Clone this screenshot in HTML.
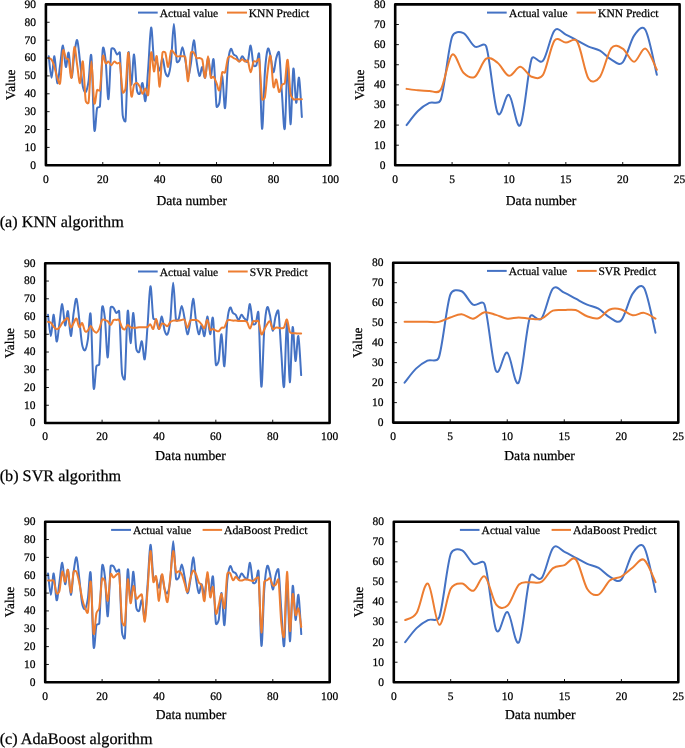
<!DOCTYPE html>
<html><head><meta charset="utf-8"><style>
html,body{margin:0;padding:0;background:#fff;}
body{width:685px;height:748px;overflow:hidden;}
svg{display:block;will-change:transform;}
text{font-family:"Liberation Serif", serif;fill:#000;stroke:#000;stroke-width:0.25px;text-rendering:geometricPrecision;}
</style></head><body>
<svg width="685" height="748" viewBox="0 0 685 748">
<path d="M48.74,56.25 C49.22,59.82 50.64,77.70 51.59,77.70 C52.54,77.70 53.48,55.35 54.43,56.25 C55.38,57.14 56.33,81.57 57.28,83.06 C58.22,84.55 59.17,71.44 60.12,65.18 C61.07,58.93 62.02,45.22 62.96,45.52 C63.91,45.82 64.86,65.78 65.81,66.97 C66.76,68.16 67.70,50.88 68.65,52.67 C69.60,54.46 70.55,77.40 71.50,77.70 C72.44,78.00 73.39,60.72 74.34,54.46 C75.29,48.20 76.24,38.96 77.18,40.16 C78.13,41.35 79.08,53.86 80.03,61.61 C80.98,69.36 81.92,81.57 82.87,86.64 C83.43,89.62 84.77,92.90 85.72,92.00 C86.66,91.11 87.69,86.75 88.56,81.27 C89.51,75.32 90.46,48.26 91.40,56.25 C92.35,64.23 93.30,120.55 94.25,129.19 C95.20,137.83 96.14,111.91 97.09,108.09 C97.50,106.46 99.77,107.98 99.94,106.30 C100.88,96.47 101.83,56.84 102.78,49.09 C103.45,43.59 105.00,54.31 105.62,59.82 C106.57,68.16 107.52,100.94 108.47,99.15 C109.42,97.36 110.36,57.44 111.31,49.09 C111.47,47.68 113.21,48.20 114.16,49.09 C115.10,49.99 116.05,53.86 117.00,54.46 C117.95,55.05 119.69,51.00 119.84,52.67 C120.79,62.80 121.74,103.92 122.69,115.24 C122.94,118.27 125.26,123.63 125.53,120.61 C126.48,110.18 127.43,58.63 128.38,52.67 C129.32,46.71 130.27,84.55 131.22,84.85 C132.17,85.15 133.12,53.56 134.06,54.46 C135.01,55.35 135.96,83.66 136.91,90.21 C137.23,92.47 138.80,94.98 139.75,93.79 C140.70,92.60 141.65,81.87 142.60,83.06 C143.54,84.25 144.49,103.62 145.44,100.94 C146.39,98.26 147.34,79.19 148.28,66.97 C149.23,54.76 150.18,28.83 151.13,27.64 C152.08,26.45 153.02,54.16 153.97,59.82 C154.25,61.48 156.03,60.12 156.82,61.61 C157.76,63.40 158.71,71.14 159.66,70.55 C160.61,69.95 161.56,57.74 162.50,58.03 C163.45,58.33 164.40,69.36 165.35,72.34 C166.04,74.51 167.24,77.70 168.19,75.91 C169.14,74.12 170.24,68.86 171.04,61.61 C171.98,52.97 172.93,24.07 173.88,24.07 C174.83,24.07 175.78,55.65 176.72,61.61 C176.99,63.27 178.95,61.38 179.57,59.82 C180.52,57.44 181.46,47.31 182.41,47.31 C183.36,47.31 184.31,55.05 185.26,59.82 C186.20,64.59 187.15,75.32 188.10,75.91 C189.05,76.51 190.00,69.36 190.94,63.40 C191.89,57.44 192.84,40.45 193.79,40.16 C194.74,39.86 195.68,55.65 196.63,61.61 C197.58,67.57 198.53,75.02 199.48,75.91 C200.42,76.81 201.37,66.67 202.32,66.97 C203.27,67.27 204.22,79.19 205.16,77.70 C206.11,76.21 207.06,58.33 208.01,58.03 C208.96,57.74 209.90,75.61 210.85,75.91 C211.80,76.21 212.75,54.76 213.70,59.82 C214.64,64.89 215.59,99.15 216.54,106.30 C216.84,108.57 218.96,104.97 219.38,102.73 C220.33,97.66 221.28,75.02 222.23,75.91 C223.18,76.81 224.12,110.18 225.07,108.09 C226.02,106.01 226.97,73.23 227.92,63.40 C228.62,56.14 229.81,50.58 230.76,49.09 C231.71,47.60 232.66,53.27 233.60,54.46 C234.55,55.65 235.50,55.05 236.45,56.25 C237.40,57.44 238.34,61.61 239.29,61.61 C240.24,61.61 241.19,56.54 242.14,56.25 C243.08,55.95 244.03,58.93 244.98,59.82 C245.93,60.71 247.20,63.17 247.82,61.61 C248.77,59.23 249.72,44.92 250.67,45.52 C251.62,46.11 252.56,61.91 253.51,65.18 C253.91,66.55 255.69,66.44 256.36,65.18 C257.30,63.40 258.70,48.93 259.20,54.46 C260.15,65.04 261.10,125.67 262.04,128.65 C262.99,131.63 263.94,85.59 264.89,72.34 C265.72,60.66 266.78,51.78 267.73,49.09 C268.68,46.41 269.66,52.51 270.58,56.25 C271.52,60.12 272.47,72.04 273.42,72.34 C274.37,72.63 275.32,61.31 276.26,58.03 C277.11,55.12 278.63,49.67 279.11,52.67 C280.06,58.63 281.00,81.13 281.95,93.79 C282.90,106.45 283.85,133.72 284.80,128.65 C285.74,123.59 286.69,64.14 287.64,63.40 C288.59,62.65 289.54,123.29 290.48,124.18 C291.43,125.08 292.38,72.34 293.33,68.76 C294.28,65.18 295.22,101.24 296.17,102.73 C297.12,104.22 298.07,75.32 299.02,77.70 C299.96,80.08 301.39,110.47 301.86,117.03" fill="none" stroke="#4472C4" stroke-width="2" stroke-linejoin="round" stroke-linecap="round"/>
<path d="M48.74,58.03 C49.22,58.33 50.69,58.40 51.59,59.82 C52.54,61.31 53.48,63.99 54.43,66.97 C55.38,69.95 56.33,75.02 57.28,77.70 C58.22,80.38 59.49,86.03 60.12,83.06 C61.07,78.59 62.02,55.05 62.96,50.88 C63.82,47.13 64.86,56.54 65.81,58.03 C66.71,59.45 68.19,58.21 68.65,59.82 C69.60,63.10 70.55,79.78 71.50,77.70 C72.44,75.61 73.39,49.39 74.34,47.31 C75.29,45.22 76.24,59.23 77.18,65.18 C78.13,71.14 79.08,83.66 80.03,83.06 C80.98,82.47 81.92,58.63 82.87,61.61 C83.82,64.59 84.77,94.09 85.72,100.94 C85.95,102.60 88.32,104.39 88.56,102.73 C89.51,96.17 90.46,61.61 91.40,61.61 C92.35,61.61 93.30,97.96 94.25,102.73 C95.20,107.50 96.14,92.30 97.09,90.21 C97.68,88.92 99.70,91.62 99.94,90.21 C100.88,84.55 101.83,60.71 102.78,56.25 C103.58,52.48 104.68,62.50 105.62,63.40 C106.57,64.29 107.52,61.31 108.47,61.61 C109.42,61.91 110.36,65.18 111.31,65.18 C112.26,65.18 113.21,61.91 114.16,61.61 C115.10,61.31 116.05,63.10 117.00,63.40 C117.95,63.69 119.57,62.00 119.84,63.40 C120.79,68.16 121.74,87.83 122.69,92.00 C123.19,94.23 125.21,90.69 125.53,88.43 C126.48,81.87 127.43,51.48 128.38,52.67 C129.32,53.86 130.27,90.21 131.22,95.58 C132.17,100.94 133.12,86.94 134.06,84.85 C134.76,83.32 135.96,82.76 136.91,83.06 C137.86,83.36 138.80,84.85 139.75,86.64 C140.70,88.43 141.65,93.49 142.60,93.79 C143.54,94.09 144.49,88.28 145.44,88.43 C146.39,88.57 147.74,98.08 148.28,94.68 C149.23,88.72 150.18,56.54 151.13,52.67 C152.08,48.80 153.02,70.85 153.97,71.44 C154.92,72.04 155.87,53.71 156.82,56.25 C157.76,58.78 158.71,87.23 159.66,86.64 C160.61,86.04 161.56,58.33 162.50,52.67 C162.74,51.27 164.82,51.35 165.35,52.67 C166.30,55.05 167.24,67.27 168.19,66.97 C169.14,66.67 170.09,53.27 171.04,50.88 C171.66,49.32 172.93,51.78 173.88,52.67 C174.83,53.56 175.78,55.65 176.72,56.25 C177.67,56.84 178.62,56.25 179.57,56.25 C180.52,56.25 181.46,56.13 182.41,56.25 C183.36,56.36 184.93,55.53 185.26,56.96 C186.20,61.13 187.15,81.99 188.10,81.27 C189.05,80.56 190.00,57.44 190.94,52.67 C191.22,51.28 192.84,51.78 193.79,52.67 C194.74,53.56 195.68,57.14 196.63,58.03 C197.58,58.93 198.53,57.74 199.48,58.03 C200.42,58.33 201.85,58.21 202.32,59.82 C203.27,63.10 204.22,78.29 205.16,77.70 C206.11,77.10 207.06,56.25 208.01,56.25 C208.96,56.25 209.90,74.24 210.85,77.70 C211.24,79.11 212.75,76.09 213.70,76.98 C214.64,77.88 215.59,80.86 216.54,83.06 C217.49,85.27 218.44,92.00 219.38,90.21 C220.33,88.43 221.28,75.32 222.23,72.34 C222.66,70.98 224.55,73.66 225.07,72.34 C226.02,69.95 226.97,60.71 227.92,58.03 C228.48,56.45 229.81,56.25 230.76,56.25 C231.71,56.25 232.66,57.53 233.60,58.03 C234.55,58.54 235.50,58.69 236.45,59.28 C237.40,59.88 238.34,61.61 239.29,61.61 C240.24,61.61 241.19,59.28 242.14,59.28 C243.08,59.28 244.03,61.37 244.98,61.61 C245.93,61.85 247.13,59.40 247.82,60.72 C248.77,62.50 249.72,72.19 250.67,72.34 C251.62,72.48 252.56,63.40 253.51,61.61 C254.18,60.35 255.41,62.00 256.36,61.61 C257.30,61.22 258.92,57.47 259.20,59.28 C260.15,65.54 261.10,92.81 262.04,99.15 C262.29,100.81 264.56,99.01 264.89,97.36 C265.84,92.60 266.78,77.40 267.73,70.55 C268.68,63.69 269.63,53.56 270.58,56.25 C271.52,58.93 272.47,82.76 273.42,86.64 C274.33,90.38 275.32,78.59 276.26,79.49 C277.21,80.38 278.16,91.11 279.11,92.00 C280.06,92.90 281.00,86.34 281.95,84.85 C282.85,83.43 284.42,84.70 284.80,83.06 C285.74,78.89 286.69,58.03 287.64,59.82 C288.59,61.61 289.54,87.23 290.48,93.79 C290.92,96.79 292.38,98.26 293.33,99.15 C294.28,100.05 295.22,99.15 296.17,99.15 C297.12,99.15 298.07,99.15 299.02,99.15 C299.96,99.15 301.39,99.15 301.86,99.15" fill="none" stroke="#ED7D31" stroke-width="2" stroke-linejoin="round" stroke-linecap="round"/>
<text x="36.10" y="168.70" text-anchor="end" font-size="11.5">0</text>
<text x="36.10" y="150.82" text-anchor="end" font-size="11.5">10</text>
<text x="36.10" y="132.94" text-anchor="end" font-size="11.5">20</text>
<text x="36.10" y="115.07" text-anchor="end" font-size="11.5">30</text>
<text x="36.10" y="97.19" text-anchor="end" font-size="11.5">40</text>
<text x="36.10" y="79.31" text-anchor="end" font-size="11.5">50</text>
<text x="36.10" y="61.43" text-anchor="end" font-size="11.5">60</text>
<text x="36.10" y="43.56" text-anchor="end" font-size="11.5">70</text>
<text x="36.10" y="25.68" text-anchor="end" font-size="11.5">80</text>
<text x="36.10" y="7.80" text-anchor="end" font-size="11.5">90</text>
<text x="45.90" y="182.60" text-anchor="middle" font-size="11.5">0</text>
<text x="102.78" y="182.60" text-anchor="middle" font-size="11.5">20</text>
<text x="159.66" y="182.60" text-anchor="middle" font-size="11.5">40</text>
<text x="216.54" y="182.60" text-anchor="middle" font-size="11.5">60</text>
<text x="273.42" y="182.60" text-anchor="middle" font-size="11.5">80</text>
<text x="330.30" y="182.60" text-anchor="middle" font-size="11.5">100</text>
<path d="M45.90,165.30H49.60M45.90,147.42H49.60M45.90,129.54H49.60M45.90,111.67H49.60M45.90,93.79H49.60M45.90,75.91H49.60M45.90,58.03H49.60M45.90,40.16H49.60M45.90,22.28H49.60M45.90,4.40H49.60M45.90,165.30V162.00M102.78,165.30V162.00M159.66,165.30V162.00M216.54,165.30V162.00M273.42,165.30V162.00M330.30,165.30V162.00" stroke="#000" stroke-width="0.9" fill="none"/>
<rect x="45.90" y="4.40" width="284.40" height="160.90" fill="none" stroke="#000" stroke-width="2.6" stroke-linejoin="round"/>
<line x1="138.00" y1="12.60" x2="157.70" y2="12.60" stroke="#4472C4" stroke-width="2"/>
<line x1="227.00" y1="12.60" x2="247.00" y2="12.60" stroke="#ED7D31" stroke-width="2"/>
<text x="159.80" y="16.70" font-size="11.5">Actual value</text>
<text x="248.80" y="16.70" font-size="11.5">KNN Predict</text>
<text x="156.40" y="205.00" font-size="13.6">Data number</text>
<text transform="translate(15.40,84.85) rotate(-90)" text-anchor="middle" font-size="13.3">Value</text>
<path d="M406.58,125.08 C408.47,122.73 414.16,114.68 417.95,111.00 C421.74,107.31 425.54,104.79 429.33,102.95 C433.12,101.11 438.79,105.50 440.70,99.93 C444.50,88.91 448.29,47.91 452.08,36.78 C454.01,31.13 459.66,31.52 463.46,33.16 C467.25,34.80 471.04,44.42 474.83,46.64 C478.62,48.85 484.36,41.05 486.21,46.44 C490.00,57.50 493.79,104.93 497.58,113.01 C501.38,121.09 505.17,92.90 508.96,94.91 C512.75,96.92 516.54,131.11 520.34,125.08 C524.13,119.04 527.92,69.43 531.71,58.70 C533.64,53.26 539.46,65.21 543.09,60.72 C546.88,56.02 550.67,34.90 554.46,30.55 C558.26,26.19 562.05,32.89 565.84,34.57 C569.63,36.24 573.42,38.59 577.22,40.60 C581.01,42.61 584.80,44.96 588.59,46.64 C592.38,48.31 596.18,48.48 599.97,50.66 C603.76,52.84 607.55,57.77 611.34,59.71 C615.14,61.65 618.93,66.35 622.72,62.32 C626.51,58.30 630.30,40.97 634.10,35.57 C637.74,30.38 642.29,24.45 645.47,29.94 C649.26,36.48 654.95,67.32 656.85,74.79" fill="none" stroke="#4472C4" stroke-width="2" stroke-linejoin="round" stroke-linecap="round"/>
<path d="M406.58,88.87 C408.47,89.11 414.16,89.95 417.95,90.28 C421.74,90.62 425.54,90.95 429.33,90.88 C433.12,90.82 437.67,94.71 440.70,89.88 C444.50,83.84 448.29,57.53 452.08,54.68 C455.87,51.83 459.66,69.10 463.46,72.78 C467.25,76.47 471.04,79.15 474.83,76.81 C478.62,74.46 482.42,61.05 486.21,58.70 C490.00,56.36 493.79,59.88 497.58,62.73 C501.38,65.58 505.17,75.13 508.96,75.80 C512.75,76.47 516.54,66.58 520.34,66.75 C524.13,66.92 527.92,75.46 531.71,76.81 C535.50,78.15 540.01,79.68 543.09,74.79 C546.88,68.76 550.67,45.97 554.46,40.60 C557.80,35.89 562.05,42.45 565.84,42.61 C569.63,42.78 574.18,36.77 577.22,41.61 C581.01,47.64 584.80,72.95 588.59,78.82 C591.73,83.67 596.53,81.45 599.97,76.81 C603.76,71.68 607.55,52.74 611.34,48.04 C614.92,43.61 618.93,46.37 622.72,48.65 C626.51,50.93 630.30,61.72 634.10,61.72 C637.89,61.72 641.68,47.31 645.47,48.65 C649.26,49.99 654.95,66.25 656.85,69.77" fill="none" stroke="#ED7D31" stroke-width="2" stroke-linejoin="round" stroke-linecap="round"/>
<text x="385.40" y="168.70" text-anchor="end" font-size="11.5">0</text>
<text x="385.40" y="148.59" text-anchor="end" font-size="11.5">10</text>
<text x="385.40" y="128.48" text-anchor="end" font-size="11.5">20</text>
<text x="385.40" y="108.36" text-anchor="end" font-size="11.5">30</text>
<text x="385.40" y="88.25" text-anchor="end" font-size="11.5">40</text>
<text x="385.40" y="68.14" text-anchor="end" font-size="11.5">50</text>
<text x="385.40" y="48.03" text-anchor="end" font-size="11.5">60</text>
<text x="385.40" y="27.91" text-anchor="end" font-size="11.5">70</text>
<text x="385.40" y="7.80" text-anchor="end" font-size="11.5">80</text>
<text x="395.20" y="182.60" text-anchor="middle" font-size="11.5">0</text>
<text x="452.08" y="182.60" text-anchor="middle" font-size="11.5">5</text>
<text x="508.96" y="182.60" text-anchor="middle" font-size="11.5">10</text>
<text x="565.84" y="182.60" text-anchor="middle" font-size="11.5">15</text>
<text x="622.72" y="182.60" text-anchor="middle" font-size="11.5">20</text>
<text x="679.60" y="182.60" text-anchor="middle" font-size="11.5">25</text>
<path d="M395.20,165.30H398.90M395.20,145.19H398.90M395.20,125.08H398.90M395.20,104.96H398.90M395.20,84.85H398.90M395.20,64.74H398.90M395.20,44.63H398.90M395.20,24.51H398.90M395.20,4.40H398.90M395.20,165.30V162.00M452.08,165.30V162.00M508.96,165.30V162.00M565.84,165.30V162.00M622.72,165.30V162.00M679.60,165.30V162.00" stroke="#000" stroke-width="0.9" fill="none"/>
<rect x="395.20" y="4.40" width="284.40" height="160.90" fill="none" stroke="#000" stroke-width="2.6" stroke-linejoin="round"/>
<line x1="487.00" y1="12.60" x2="506.70" y2="12.60" stroke="#4472C4" stroke-width="2"/>
<line x1="576.60" y1="12.60" x2="596.00" y2="12.60" stroke="#ED7D31" stroke-width="2"/>
<text x="509.10" y="16.70" font-size="11.5">Actual value</text>
<text x="598.10" y="16.70" font-size="11.5">KNN Predict</text>
<text x="505.80" y="205.00" font-size="13.6">Data number</text>
<text transform="translate(364.00,84.85) rotate(-90)" text-anchor="middle" font-size="13.3">Value</text>
<path d="M48.04,314.76 C48.52,318.31 49.94,336.05 50.89,336.05 C51.84,336.05 52.78,313.87 53.73,314.76 C54.68,315.65 55.63,339.90 56.58,341.38 C57.52,342.85 58.47,329.84 59.42,323.63 C60.37,317.42 61.32,303.82 62.26,304.11 C63.21,304.41 64.16,324.22 65.11,325.41 C66.06,326.59 67.00,309.44 67.95,311.21 C68.90,312.98 69.85,335.76 70.80,336.05 C71.74,336.35 72.69,319.19 73.64,312.98 C74.59,306.77 75.54,297.61 76.48,298.79 C77.43,299.97 78.38,312.39 79.33,320.08 C80.28,327.77 81.22,339.90 82.17,344.92 C82.73,347.89 84.07,351.14 85.02,350.25 C85.96,349.36 86.99,345.04 87.86,339.60 C88.81,333.69 89.76,306.83 90.70,314.76 C91.65,322.68 92.60,378.58 93.55,387.16 C94.50,395.73 95.44,370.00 96.39,366.22 C96.80,364.59 99.07,366.11 99.24,364.44 C100.18,354.68 101.13,315.35 102.08,307.66 C102.75,302.19 104.30,312.83 104.92,318.31 C105.87,326.59 106.82,359.12 107.77,357.35 C108.72,355.57 109.66,315.94 110.61,307.66 C110.77,306.25 112.51,306.77 113.46,307.66 C114.40,308.55 115.35,312.39 116.30,312.98 C117.25,313.58 118.99,309.54 119.14,311.21 C120.09,321.27 121.04,362.08 121.99,373.32 C122.24,376.32 124.56,381.64 124.83,378.64 C125.78,368.29 126.73,317.12 127.68,311.21 C128.62,305.30 129.57,342.85 130.52,343.15 C131.47,343.45 132.42,312.10 133.36,312.98 C134.31,313.87 135.26,341.97 136.21,348.47 C136.54,350.72 138.10,353.21 139.05,352.02 C140.00,350.84 140.95,340.19 141.90,341.38 C142.84,342.56 143.79,361.78 144.74,359.12 C145.69,356.46 146.64,337.53 147.58,325.41 C148.53,313.28 149.48,287.55 150.43,286.37 C151.38,285.18 152.32,312.69 153.27,318.31 C153.55,319.96 155.33,318.60 156.12,320.08 C157.06,321.86 158.01,329.55 158.96,328.95 C159.91,328.36 160.86,316.24 161.80,316.53 C162.75,316.83 163.70,327.77 164.65,330.73 C165.34,332.89 166.54,336.05 167.49,334.28 C168.44,332.50 169.54,327.28 170.34,320.08 C171.28,311.51 172.23,282.82 173.18,282.82 C174.13,282.82 175.08,314.17 176.02,320.08 C176.29,321.74 178.24,319.86 178.87,318.31 C179.82,315.94 180.76,305.89 181.71,305.89 C182.66,305.89 183.61,313.58 184.56,318.31 C185.50,323.04 186.45,333.69 187.40,334.28 C188.35,334.87 189.30,327.77 190.24,321.86 C191.19,315.94 192.14,299.08 193.09,298.79 C194.04,298.49 194.98,314.17 195.93,320.08 C196.88,326.00 197.83,333.39 198.78,334.28 C199.72,335.16 200.67,325.11 201.62,325.41 C202.57,325.70 203.52,337.53 204.46,336.05 C205.41,334.57 206.36,316.83 207.31,316.53 C208.26,316.24 209.20,333.98 210.15,334.28 C211.10,334.57 212.05,313.28 213.00,318.31 C213.94,323.34 214.89,357.35 215.84,364.44 C216.14,366.70 218.26,363.13 218.68,360.89 C219.63,355.87 220.58,333.39 221.53,334.28 C222.48,335.16 223.42,368.29 224.37,366.22 C225.32,364.15 226.27,331.62 227.22,321.86 C227.92,314.65 229.11,309.14 230.06,307.66 C231.01,306.18 231.96,311.80 232.90,312.98 C233.85,314.17 234.80,313.58 235.75,314.76 C236.70,315.94 237.64,320.08 238.59,320.08 C239.54,320.08 240.49,315.05 241.44,314.76 C242.38,314.46 243.33,317.42 244.28,318.31 C245.23,319.20 246.50,321.64 247.12,320.08 C248.07,317.72 249.02,303.52 249.97,304.11 C250.92,304.70 251.86,320.38 252.81,323.63 C253.21,325.00 254.99,324.89 255.66,323.63 C256.60,321.86 258.00,307.50 258.50,312.98 C259.45,323.48 260.40,383.67 261.34,386.62 C262.29,389.58 263.24,343.89 264.19,330.73 C265.02,319.14 266.08,310.32 267.03,307.66 C267.98,305.00 268.96,311.05 269.88,314.76 C270.82,318.60 271.77,330.43 272.72,330.73 C273.67,331.02 274.62,319.79 275.56,316.53 C276.41,313.64 277.93,308.23 278.41,311.21 C279.36,317.12 280.30,339.45 281.25,352.02 C282.20,364.59 283.15,391.65 284.10,386.62 C285.04,381.60 285.99,322.60 286.94,321.86 C287.89,321.12 288.84,381.30 289.78,382.19 C290.73,383.08 291.68,330.73 292.63,327.18 C293.58,323.63 294.52,359.42 295.47,360.89 C296.42,362.37 297.37,333.69 298.32,336.05 C299.26,338.42 300.69,368.58 301.16,375.09" fill="none" stroke="#4472C4" stroke-width="2" stroke-linejoin="round" stroke-linecap="round"/>
<path d="M48.04,321.86 C48.52,322.00 49.94,321.92 50.89,322.74 C51.84,323.57 52.78,325.76 53.73,326.83 C54.68,327.89 55.63,329.01 56.58,329.13 C57.52,329.25 58.47,328.57 59.42,327.53 C60.37,326.50 61.32,324.19 62.26,322.92 C63.21,321.65 64.16,320.67 65.11,319.90 C66.06,319.14 67.00,317.10 67.95,318.31 C68.90,319.52 69.85,326.41 70.80,327.18 C71.74,327.95 72.69,324.34 73.64,322.92 C74.59,321.50 75.54,317.95 76.48,318.66 C77.43,319.37 78.38,326.44 79.33,327.18 C80.28,327.92 81.22,322.42 82.17,323.10 C83.12,323.78 84.07,330.02 85.02,331.26 C85.91,332.43 86.91,331.41 87.86,330.55 C88.81,329.69 89.76,326.12 90.70,326.12 C91.65,326.12 92.60,329.46 93.55,330.55 C94.50,331.65 95.44,332.95 96.39,332.68 C97.34,332.41 98.29,331.05 99.24,328.95 C100.18,326.85 101.13,321.59 102.08,320.08 C102.84,318.88 103.98,319.70 104.92,319.90 C105.87,320.11 106.82,320.47 107.77,321.32 C108.72,322.18 109.66,325.26 110.61,325.05 C111.56,324.84 112.51,320.94 113.46,320.08 C114.40,319.22 115.35,319.90 116.30,319.90 C117.25,319.90 118.28,318.95 119.14,320.08 C120.09,321.32 121.04,325.82 121.99,327.36 C122.89,328.83 123.88,329.69 124.83,329.31 C125.78,328.92 126.73,325.38 127.68,325.05 C128.62,324.73 129.57,326.91 130.52,327.36 C131.47,327.80 132.42,327.65 133.36,327.71 C134.31,327.77 135.26,327.77 136.21,327.71 C137.16,327.65 138.10,327.42 139.05,327.36 C140.00,327.30 140.95,327.39 141.90,327.36 C142.84,327.33 143.79,327.24 144.74,327.18 C145.69,327.12 146.64,327.48 147.58,327.00 C148.53,326.53 149.48,324.02 150.43,324.34 C151.38,324.67 152.32,329.84 153.27,328.95 C154.22,328.07 155.17,319.02 156.12,319.02 C157.06,319.02 158.01,328.19 158.96,328.95 C159.91,329.72 160.86,324.40 161.80,323.63 C162.75,322.86 163.70,323.93 164.65,324.34 C165.60,324.75 166.54,326.50 167.49,326.12 C168.44,325.73 169.39,322.95 170.34,322.03 C171.28,321.12 172.23,320.85 173.18,320.61 C174.13,320.38 175.08,320.61 176.02,320.61 C176.97,320.61 177.92,320.73 178.87,320.61 C179.82,320.50 180.76,320.02 181.71,319.90 C182.66,319.79 183.72,318.76 184.56,319.90 C185.50,321.21 186.45,327.59 187.40,327.71 C188.35,327.83 189.30,321.89 190.24,320.61 C191.11,319.45 192.14,320.17 193.09,320.08 C194.04,319.99 194.98,319.88 195.93,320.08 C196.88,320.29 197.83,320.61 198.78,321.32 C199.72,322.03 200.67,323.19 201.62,324.34 C202.57,325.49 203.52,328.98 204.46,328.24 C205.41,327.51 206.36,319.67 207.31,319.90 C208.26,320.14 209.20,328.16 210.15,329.66 C210.93,330.91 212.05,328.81 213.00,328.95 C213.94,329.10 214.89,330.17 215.84,330.55 C216.79,330.94 217.74,331.73 218.68,331.26 C219.63,330.79 220.58,328.36 221.53,327.71 C222.48,327.06 223.48,328.48 224.37,327.36 C225.32,326.17 226.27,321.83 227.22,320.61 C228.11,319.47 229.11,320.08 230.06,320.08 C231.01,320.08 231.96,320.53 232.90,320.61 C233.85,320.70 234.80,320.56 235.75,320.61 C236.70,320.67 237.64,320.91 238.59,320.97 C239.54,321.03 240.49,320.97 241.44,320.97 C242.38,320.97 243.33,320.79 244.28,320.97 C245.23,321.15 246.22,320.82 247.12,322.03 C248.07,323.31 249.02,328.66 249.97,328.60 C250.92,328.54 251.86,322.89 252.81,321.68 C253.69,320.55 254.71,321.38 255.66,321.32 C256.60,321.27 257.93,320.02 258.50,321.32 C259.45,323.48 260.40,332.89 261.34,334.28 C262.29,335.67 263.24,331.32 264.19,329.66 C265.14,328.01 266.08,325.73 267.03,324.34 C267.98,322.95 268.93,320.56 269.88,321.32 C270.82,322.09 271.77,327.89 272.72,328.95 C273.67,330.02 274.62,327.92 275.56,327.71 C276.51,327.51 277.46,327.62 278.41,327.71 C279.36,327.80 280.30,328.30 281.25,328.24 C282.20,328.19 283.28,328.60 284.10,327.36 C285.04,325.91 285.99,318.78 286.94,319.55 C287.89,320.32 288.84,329.69 289.78,331.97 C290.38,333.40 291.68,333.01 292.63,333.21 C293.58,333.42 294.52,333.15 295.47,333.21 C296.42,333.27 297.37,333.51 298.32,333.57 C299.26,333.63 300.69,333.57 301.16,333.57" fill="none" stroke="#ED7D31" stroke-width="2" stroke-linejoin="round" stroke-linecap="round"/>
<text x="35.40" y="426.40" text-anchor="end" font-size="11.5">0</text>
<text x="35.40" y="408.66" text-anchor="end" font-size="11.5">10</text>
<text x="35.40" y="390.91" text-anchor="end" font-size="11.5">20</text>
<text x="35.40" y="373.17" text-anchor="end" font-size="11.5">30</text>
<text x="35.40" y="355.42" text-anchor="end" font-size="11.5">40</text>
<text x="35.40" y="337.68" text-anchor="end" font-size="11.5">50</text>
<text x="35.40" y="319.93" text-anchor="end" font-size="11.5">60</text>
<text x="35.40" y="302.19" text-anchor="end" font-size="11.5">70</text>
<text x="35.40" y="284.44" text-anchor="end" font-size="11.5">80</text>
<text x="35.40" y="266.70" text-anchor="end" font-size="11.5">90</text>
<text x="45.20" y="440.30" text-anchor="middle" font-size="11.5">0</text>
<text x="102.08" y="440.30" text-anchor="middle" font-size="11.5">20</text>
<text x="158.96" y="440.30" text-anchor="middle" font-size="11.5">40</text>
<text x="215.84" y="440.30" text-anchor="middle" font-size="11.5">60</text>
<text x="272.72" y="440.30" text-anchor="middle" font-size="11.5">80</text>
<text x="329.60" y="440.30" text-anchor="middle" font-size="11.5">100</text>
<path d="M45.20,423.00H48.90M45.20,405.26H48.90M45.20,387.51H48.90M45.20,369.77H48.90M45.20,352.02H48.90M45.20,334.28H48.90M45.20,316.53H48.90M45.20,298.79H48.90M45.20,281.04H48.90M45.20,263.30H48.90M45.20,423.00V419.70M102.08,423.00V419.70M158.96,423.00V419.70M215.84,423.00V419.70M272.72,423.00V419.70M329.60,423.00V419.70" stroke="#000" stroke-width="0.9" fill="none"/>
<rect x="45.20" y="263.30" width="284.40" height="159.70" fill="none" stroke="#000" stroke-width="2.6" stroke-linejoin="round"/>
<line x1="138.00" y1="271.50" x2="157.70" y2="271.50" stroke="#4472C4" stroke-width="2"/>
<line x1="228.00" y1="271.50" x2="247.70" y2="271.50" stroke="#ED7D31" stroke-width="2"/>
<text x="159.80" y="275.60" font-size="11.5">Actual value</text>
<text x="249.80" y="275.60" font-size="11.5">SVR Predict</text>
<text x="155.30" y="460.40" font-size="13.6">Data number</text>
<text transform="translate(14.20,343.15) rotate(-90)" text-anchor="middle" font-size="13.3">Value</text>
<path d="M404.60,382.62 C406.50,380.29 412.21,372.30 416.01,368.63 C419.81,364.97 423.61,362.47 427.41,360.64 C431.21,358.81 436.88,363.21 438.82,357.64 C442.62,346.68 446.42,305.94 450.22,294.88 C452.16,289.23 457.82,289.65 461.62,291.28 C465.43,292.91 469.23,302.48 473.03,304.67 C476.83,306.87 482.57,299.08 484.43,304.47 C488.23,315.47 492.03,362.60 495.84,370.63 C499.64,378.66 503.44,350.64 507.24,352.64 C511.04,354.64 514.84,388.62 518.64,382.62 C522.45,376.63 526.25,327.33 530.05,316.67 C531.99,311.21 537.79,323.15 541.45,318.66 C545.25,314.00 549.05,293.01 552.86,288.68 C556.66,284.35 560.46,291.02 564.26,292.68 C568.06,294.35 571.86,296.68 575.66,298.68 C579.47,300.68 583.27,303.01 587.07,304.67 C590.87,306.34 594.67,306.51 598.47,308.67 C602.27,310.84 606.07,315.73 609.88,317.67 C613.68,319.60 617.48,324.26 621.28,320.26 C625.08,316.27 628.88,299.04 632.68,293.68 C636.36,288.50 640.88,282.60 644.09,288.08 C647.89,294.58 653.59,325.23 655.49,332.66" fill="none" stroke="#4472C4" stroke-width="2" stroke-linejoin="round" stroke-linecap="round"/>
<path d="M404.60,321.86 C406.50,321.86 412.21,321.86 416.01,321.86 C419.81,321.86 423.61,321.86 427.41,321.86 C431.21,321.86 435.01,322.60 438.82,321.86 C442.62,321.13 446.42,318.73 450.22,317.47 C454.02,316.20 457.82,314.07 461.62,314.27 C465.43,314.47 469.23,319.00 473.03,318.66 C476.83,318.33 480.63,312.90 484.43,312.27 C488.23,311.64 492.03,313.80 495.84,314.87 C499.64,315.93 503.44,318.23 507.24,318.66 C511.04,319.10 514.84,317.47 518.64,317.47 C522.45,317.47 526.25,318.47 530.05,318.66 C533.85,318.86 537.65,320.00 541.45,318.66 C545.25,317.33 549.05,312.10 552.86,310.67 C556.66,309.24 560.46,310.17 564.26,310.07 C568.06,309.97 571.86,309.04 575.66,310.07 C579.47,311.10 583.27,314.90 587.07,316.27 C590.87,317.63 594.67,319.40 598.47,318.27 C602.27,317.13 606.07,310.94 609.88,309.47 C613.68,308.00 617.48,308.50 621.28,309.47 C625.08,310.44 628.88,314.70 632.68,315.27 C636.49,315.83 640.29,312.30 644.09,312.87 C647.89,313.43 653.59,317.70 655.49,318.66" fill="none" stroke="#ED7D31" stroke-width="2" stroke-linejoin="round" stroke-linecap="round"/>
<text x="383.40" y="426.00" text-anchor="end" font-size="11.5">0</text>
<text x="383.40" y="406.01" text-anchor="end" font-size="11.5">10</text>
<text x="383.40" y="386.02" text-anchor="end" font-size="11.5">20</text>
<text x="383.40" y="366.04" text-anchor="end" font-size="11.5">30</text>
<text x="383.40" y="346.05" text-anchor="end" font-size="11.5">40</text>
<text x="383.40" y="326.06" text-anchor="end" font-size="11.5">50</text>
<text x="383.40" y="306.07" text-anchor="end" font-size="11.5">60</text>
<text x="383.40" y="286.09" text-anchor="end" font-size="11.5">70</text>
<text x="383.40" y="266.10" text-anchor="end" font-size="11.5">80</text>
<text x="393.20" y="439.90" text-anchor="middle" font-size="11.5">0</text>
<text x="450.22" y="439.90" text-anchor="middle" font-size="11.5">5</text>
<text x="507.24" y="439.90" text-anchor="middle" font-size="11.5">10</text>
<text x="564.26" y="439.90" text-anchor="middle" font-size="11.5">15</text>
<text x="621.28" y="439.90" text-anchor="middle" font-size="11.5">20</text>
<text x="678.30" y="439.90" text-anchor="middle" font-size="11.5">25</text>
<path d="M393.20,422.60H396.90M393.20,402.61H396.90M393.20,382.62H396.90M393.20,362.64H396.90M393.20,342.65H396.90M393.20,322.66H396.90M393.20,302.68H396.90M393.20,282.69H396.90M393.20,262.70H396.90M393.20,422.60V419.30M450.22,422.60V419.30M507.24,422.60V419.30M564.26,422.60V419.30M621.28,422.60V419.30M678.30,422.60V419.30" stroke="#000" stroke-width="0.9" fill="none"/>
<rect x="393.20" y="262.70" width="285.10" height="159.90" fill="none" stroke="#000" stroke-width="2.6" stroke-linejoin="round"/>
<line x1="487.00" y1="270.90" x2="506.70" y2="270.90" stroke="#4472C4" stroke-width="2"/>
<line x1="577.00" y1="270.90" x2="596.70" y2="270.90" stroke="#ED7D31" stroke-width="2"/>
<text x="508.80" y="275.00" font-size="11.5">Actual value</text>
<text x="598.40" y="275.00" font-size="11.5">SVR Predict</text>
<text x="504.30" y="459.70" font-size="13.6">Data number</text>
<text transform="translate(362.00,342.65) rotate(-90)" text-anchor="middle" font-size="13.3">Value</text>
<path d="M48.05,573.45 C48.52,577.02 49.94,594.86 50.89,594.86 C51.84,594.86 52.79,572.56 53.73,573.45 C54.68,574.34 55.63,598.73 56.58,600.22 C57.53,601.70 58.48,588.62 59.43,582.37 C60.37,576.13 61.32,562.44 62.27,562.74 C63.22,563.04 64.17,582.97 65.12,584.16 C66.06,585.35 67.01,568.10 67.96,569.88 C68.91,571.66 69.86,594.56 70.81,594.86 C71.75,595.16 72.70,577.91 73.65,571.66 C74.60,565.42 75.55,556.20 76.50,557.39 C77.44,558.58 78.39,571.07 79.34,578.80 C80.29,586.53 81.24,598.73 82.19,603.78 C82.74,606.76 84.08,610.03 85.03,609.14 C85.98,608.25 87.00,603.90 87.88,598.43 C88.82,592.48 89.77,565.48 90.72,573.45 C91.67,581.42 92.62,637.63 93.56,646.25 C94.51,654.88 95.46,629.00 96.41,625.20 C96.82,623.57 99.09,625.08 99.26,623.41 C100.20,613.60 101.15,574.04 102.10,566.31 C102.77,560.81 104.32,571.51 104.95,577.02 C105.89,585.35 106.84,618.06 107.79,616.28 C108.74,614.49 109.69,574.64 110.64,566.31 C110.80,564.90 112.53,565.42 113.48,566.31 C114.43,567.20 115.38,571.07 116.33,571.66 C117.27,572.26 119.01,568.21 119.17,569.88 C120.12,579.99 121.07,621.03 122.02,632.34 C122.27,635.36 124.58,640.71 124.86,637.69 C125.81,627.28 126.76,575.83 127.71,569.88 C128.65,563.93 129.60,601.70 130.55,602.00 C131.50,602.30 132.45,570.77 133.40,571.66 C134.34,572.56 135.29,600.81 136.24,607.35 C136.57,609.61 138.14,612.11 139.09,610.92 C140.03,609.73 140.98,599.03 141.93,600.22 C142.88,601.41 143.83,620.74 144.78,618.06 C145.72,615.38 146.67,596.35 147.62,584.16 C148.57,571.96 149.52,546.09 150.47,544.90 C151.41,543.71 152.36,571.37 153.31,577.02 C153.59,578.67 155.37,577.32 156.16,578.80 C157.10,580.59 158.05,588.32 159.00,587.72 C159.95,587.13 160.90,574.94 161.85,575.23 C162.79,575.53 163.74,586.53 164.69,589.51 C165.38,591.68 166.59,594.86 167.54,593.08 C168.48,591.29 169.58,586.04 170.38,578.80 C171.33,570.18 172.28,541.33 173.23,541.33 C174.17,541.33 175.12,572.85 176.07,578.80 C176.33,580.46 178.29,578.58 178.92,577.02 C179.86,574.64 180.81,564.53 181.76,564.53 C182.71,564.53 183.66,572.26 184.61,577.02 C185.55,581.78 186.50,592.48 187.45,593.08 C188.40,593.67 189.35,586.53 190.30,580.59 C191.24,574.64 192.19,557.69 193.14,557.39 C194.09,557.09 195.04,572.85 195.99,578.80 C196.93,584.75 197.88,592.19 198.83,593.08 C199.78,593.97 200.73,583.86 201.68,584.16 C202.62,584.45 203.57,596.35 204.52,594.86 C205.47,593.38 206.42,575.53 207.37,575.23 C208.31,574.94 209.26,592.78 210.21,593.08 C211.16,593.38 212.11,571.96 213.06,577.02 C214.00,582.07 214.95,616.28 215.90,623.41 C216.20,625.68 218.32,622.09 218.75,619.84 C219.69,614.79 220.64,592.19 221.59,593.08 C222.54,593.97 223.49,627.28 224.44,625.20 C225.38,623.12 226.33,590.40 227.28,580.59 C227.98,573.34 229.18,567.80 230.12,566.31 C231.07,564.82 232.02,570.47 232.97,571.66 C233.92,572.85 234.87,572.26 235.81,573.45 C236.76,574.64 237.71,578.80 238.66,578.80 C239.61,578.80 240.56,573.75 241.50,573.45 C242.45,573.15 243.40,576.13 244.35,577.02 C245.30,577.91 246.57,580.36 247.19,578.80 C248.14,576.42 249.09,562.15 250.04,562.74 C250.99,563.34 251.94,579.10 252.88,582.37 C253.28,583.74 255.06,583.63 255.73,582.37 C256.68,580.59 258.08,566.15 258.58,571.66 C259.52,582.22 260.47,642.74 261.42,645.72 C262.37,648.69 263.32,602.74 264.27,589.51 C265.10,577.85 266.16,568.99 267.11,566.31 C268.06,563.63 269.04,569.72 269.96,573.45 C270.90,577.32 271.85,589.21 272.80,589.51 C273.75,589.81 274.70,578.50 275.65,575.23 C276.49,572.32 278.01,566.89 278.49,569.88 C279.44,575.83 280.39,598.28 281.34,610.92 C282.28,623.56 283.23,650.77 284.18,645.72 C285.13,640.66 286.08,581.33 287.03,580.59 C287.97,579.84 288.92,640.37 289.87,641.26 C290.82,642.15 291.77,589.51 292.72,585.94 C293.66,582.37 294.61,618.36 295.56,619.84 C296.51,621.33 297.46,592.48 298.41,594.86 C299.35,597.24 300.78,627.58 301.25,634.12" fill="none" stroke="#4472C4" stroke-width="2" stroke-linejoin="round" stroke-linecap="round"/>
<path d="M48.05,580.59 C48.52,580.59 49.94,580.53 50.89,580.59 C51.84,580.65 53.14,579.64 53.73,580.94 C54.68,583.03 55.63,591.41 56.58,593.08 C57.46,594.62 58.97,592.66 59.43,590.94 C60.37,587.37 61.32,573.18 62.27,571.66 C63.22,570.15 64.17,582.13 65.12,581.84 C66.06,581.54 67.01,568.10 67.96,569.88 C68.91,571.66 69.86,592.22 70.81,592.54 C71.75,592.87 72.70,575.29 73.65,571.84 C74.03,570.47 75.86,570.57 76.50,571.84 C77.44,573.75 78.39,578.80 79.34,583.26 C80.29,587.72 81.24,594.51 82.19,598.61 C83.13,602.71 84.08,605.63 85.03,607.89 C85.98,610.15 87.33,614.68 87.88,612.17 C88.82,607.83 89.77,578.33 90.72,581.84 C91.67,585.35 92.62,627.99 93.56,633.23 C94.51,638.46 95.46,617.47 96.41,613.24 C97.07,610.28 98.76,610.88 99.26,607.89 C100.20,602.18 101.15,583.32 102.10,578.98 C102.53,577.01 104.44,579.88 104.95,581.84 C105.89,585.49 106.84,602.21 107.79,600.93 C108.74,599.65 109.69,578.06 110.64,574.16 C111.16,572.01 112.53,577.43 113.48,577.55 C114.43,577.67 115.38,575.50 116.33,574.88 C117.27,574.25 118.98,572.30 119.17,573.81 C120.12,581.48 121.07,612.41 122.02,620.92 C122.28,623.32 124.53,627.24 124.86,624.84 C125.81,617.94 126.76,583.11 127.71,579.52 C128.65,575.92 129.60,602.15 130.55,603.25 C131.50,604.35 132.45,586.92 133.40,586.12 C134.34,585.32 135.29,596.74 136.24,598.43 C137.11,599.98 138.14,596.88 139.09,596.29 C140.03,595.69 141.58,593.31 141.93,594.86 C142.88,599.09 143.83,622.52 144.78,621.63 C145.72,620.74 146.67,601.26 147.62,589.51 C148.57,577.76 149.52,552.42 150.47,551.14 C151.41,549.86 152.36,577.61 153.31,581.84 C153.97,584.79 155.29,573.58 156.16,576.48 C157.10,579.66 158.05,601.29 159.00,600.93 C159.95,600.57 160.90,576.24 161.85,574.34 C162.79,572.44 163.74,584.93 164.69,589.51 C165.64,594.09 166.59,604.14 167.54,601.82 C168.48,599.50 169.43,584.04 170.38,575.59 C171.33,567.14 172.28,551.71 173.23,551.14 C174.17,550.58 175.12,568.84 176.07,572.20 C176.47,573.63 177.97,570.98 178.92,571.31 C179.86,571.63 180.89,572.34 181.76,574.16 C182.71,576.16 183.66,580.32 184.61,583.26 C185.55,586.21 186.50,592.57 187.45,591.83 C188.40,591.09 189.35,582.31 190.30,578.80 C191.24,575.29 192.19,571.55 193.14,570.77 C194.09,570.00 195.04,572.20 195.99,574.16 C196.93,576.13 197.88,580.65 198.83,582.55 C199.76,584.41 201.06,583.60 201.68,585.58 C202.62,588.65 203.57,603.16 204.52,600.93 C205.47,598.70 206.42,572.82 207.37,572.20 C208.31,571.58 209.26,594.68 210.21,597.18 C211.16,599.68 212.11,584.51 213.06,587.19 C214.00,589.87 214.95,610.30 215.90,613.24 C216.85,616.19 217.80,608.04 218.75,604.86 C219.69,601.67 220.64,593.64 221.59,594.15 C222.54,594.65 223.49,611.28 224.44,607.89 C225.38,604.50 226.33,579.58 227.28,573.81 C227.51,572.38 229.18,572.20 230.12,573.27 C231.07,574.34 232.02,579.63 232.97,580.23 C233.92,580.82 234.87,576.90 235.81,576.84 C236.76,576.78 237.71,579.25 238.66,579.87 C239.61,580.50 240.56,580.65 241.50,580.59 C242.45,580.53 243.40,579.69 244.35,579.52 C245.30,579.34 246.25,579.40 247.19,579.52 C248.14,579.63 249.09,579.99 250.04,580.23 C250.99,580.47 251.94,581.21 252.88,580.94 C253.83,580.68 254.78,579.13 255.73,578.62 C256.68,578.12 258.42,576.45 258.58,577.91 C259.52,586.89 260.47,631.86 261.42,632.51 C262.37,633.17 263.32,590.55 264.27,581.84 C264.44,580.21 266.16,580.79 267.11,580.23 C268.06,579.66 269.01,577.61 269.96,578.45 C270.90,579.28 271.85,584.16 272.80,585.23 C273.75,586.30 274.70,585.76 275.65,584.87 C276.59,583.98 278.07,577.03 278.49,579.87 C279.44,586.27 280.39,613.96 281.34,623.23 C281.98,629.52 283.48,641.83 284.18,635.55 C285.13,626.98 286.08,572.62 287.03,571.84 C287.97,571.07 288.92,627.19 289.87,630.91 C290.82,634.63 291.77,596.83 292.72,594.15 C293.66,591.47 294.61,612.44 295.56,614.85 C296.51,617.26 297.46,606.58 298.41,608.60 C299.35,610.62 300.78,623.92 301.25,626.98" fill="none" stroke="#ED7D31" stroke-width="2" stroke-linejoin="round" stroke-linecap="round"/>
<text x="35.40" y="685.70" text-anchor="end" font-size="11.5">0</text>
<text x="35.40" y="667.86" text-anchor="end" font-size="11.5">10</text>
<text x="35.40" y="650.01" text-anchor="end" font-size="11.5">20</text>
<text x="35.40" y="632.17" text-anchor="end" font-size="11.5">30</text>
<text x="35.40" y="614.32" text-anchor="end" font-size="11.5">40</text>
<text x="35.40" y="596.48" text-anchor="end" font-size="11.5">50</text>
<text x="35.40" y="578.63" text-anchor="end" font-size="11.5">60</text>
<text x="35.40" y="560.79" text-anchor="end" font-size="11.5">70</text>
<text x="35.40" y="542.94" text-anchor="end" font-size="11.5">80</text>
<text x="35.40" y="525.10" text-anchor="end" font-size="11.5">90</text>
<text x="45.20" y="699.60" text-anchor="middle" font-size="11.5">0</text>
<text x="102.10" y="699.60" text-anchor="middle" font-size="11.5">20</text>
<text x="159.00" y="699.60" text-anchor="middle" font-size="11.5">40</text>
<text x="215.90" y="699.60" text-anchor="middle" font-size="11.5">60</text>
<text x="272.80" y="699.60" text-anchor="middle" font-size="11.5">80</text>
<text x="329.70" y="699.60" text-anchor="middle" font-size="11.5">100</text>
<path d="M45.20,682.30H48.90M45.20,664.46H48.90M45.20,646.61H48.90M45.20,628.77H48.90M45.20,610.92H48.90M45.20,593.08H48.90M45.20,575.23H48.90M45.20,557.39H48.90M45.20,539.54H48.90M45.20,521.70H48.90M45.20,682.30V679.00M102.10,682.30V679.00M159.00,682.30V679.00M215.90,682.30V679.00M272.80,682.30V679.00M329.70,682.30V679.00" stroke="#000" stroke-width="0.9" fill="none"/>
<rect x="45.20" y="521.70" width="284.50" height="160.60" fill="none" stroke="#000" stroke-width="2.6" stroke-linejoin="round"/>
<line x1="111.10" y1="529.90" x2="131.00" y2="529.90" stroke="#4472C4" stroke-width="2"/>
<line x1="202.60" y1="529.90" x2="222.10" y2="529.90" stroke="#ED7D31" stroke-width="2"/>
<text x="132.90" y="534.00" font-size="11.5">Actual value</text>
<text x="223.90" y="534.00" font-size="11.8">AdaBoost Predict</text>
<text x="155.70" y="718.90" font-size="13.6">Data number</text>
<text transform="translate(14.40,602.00) rotate(-90)" text-anchor="middle" font-size="13.3">Value</text>
<path d="M405.18,642.15 C407.08,639.81 412.77,631.78 416.56,628.10 C420.35,624.42 424.15,621.91 427.94,620.07 C431.73,618.23 437.40,622.62 439.32,617.06 C443.11,606.05 446.91,565.13 450.70,554.02 C452.63,548.37 458.29,548.77 462.08,550.41 C465.87,552.05 469.67,561.65 473.46,563.86 C477.25,566.07 482.99,558.27 484.84,563.66 C488.63,574.70 492.43,622.04 496.22,630.11 C500.01,638.17 503.81,610.03 507.60,612.04 C511.39,614.05 515.19,648.17 518.98,642.15 C522.77,636.13 526.57,586.61 530.36,575.90 C532.29,570.46 538.10,582.40 541.74,577.91 C545.53,573.23 549.33,552.15 553.12,547.80 C556.91,543.45 560.71,550.14 564.50,551.81 C568.29,553.49 572.09,555.83 575.88,557.84 C579.67,559.84 583.47,562.18 587.26,563.86 C591.05,565.53 594.85,565.70 598.64,567.87 C602.43,570.05 606.23,574.97 610.02,576.91 C613.81,578.85 617.61,583.53 621.40,579.52 C625.19,575.50 628.99,558.20 632.78,552.82 C636.43,547.63 640.97,541.71 644.16,547.20 C647.95,553.72 653.64,584.50 655.54,591.96" fill="none" stroke="#4472C4" stroke-width="2" stroke-linejoin="round" stroke-linecap="round"/>
<path d="M405.18,620.07 C407.08,618.90 413.02,618.72 416.56,613.04 C420.35,606.95 424.15,581.59 427.94,583.53 C431.73,585.47 435.53,623.81 439.32,624.68 C443.11,625.55 446.91,595.61 450.70,588.75 C453.73,583.27 458.29,583.20 462.08,583.53 C465.87,583.87 469.67,591.93 473.46,590.76 C477.25,589.59 481.05,574.20 484.84,576.50 C488.63,578.81 492.43,599.76 496.22,604.61 C499.74,609.11 503.81,608.96 507.60,605.61 C511.39,602.27 515.19,588.42 518.98,584.53 C522.77,580.65 526.57,582.79 530.36,582.33 C534.15,581.86 537.95,584.10 541.74,581.72 C545.53,579.35 549.33,570.85 553.12,568.07 C556.91,565.30 560.71,566.50 564.50,565.06 C568.29,563.62 572.09,555.46 575.88,559.44 C579.67,563.42 583.47,583.10 587.26,588.95 C590.71,594.28 594.85,596.01 598.64,594.57 C602.43,593.13 606.23,583.33 610.02,580.32 C613.81,577.31 617.61,578.65 621.40,576.50 C625.19,574.36 628.99,570.25 632.78,567.47 C636.57,564.69 640.37,557.40 644.16,559.84 C647.95,562.28 653.64,578.41 655.54,582.13" fill="none" stroke="#ED7D31" stroke-width="2" stroke-linejoin="round" stroke-linecap="round"/>
<text x="384.00" y="685.70" text-anchor="end" font-size="11.5">0</text>
<text x="384.00" y="665.62" text-anchor="end" font-size="11.5">10</text>
<text x="384.00" y="645.55" text-anchor="end" font-size="11.5">20</text>
<text x="384.00" y="625.48" text-anchor="end" font-size="11.5">30</text>
<text x="384.00" y="605.40" text-anchor="end" font-size="11.5">40</text>
<text x="384.00" y="585.32" text-anchor="end" font-size="11.5">50</text>
<text x="384.00" y="565.25" text-anchor="end" font-size="11.5">60</text>
<text x="384.00" y="545.18" text-anchor="end" font-size="11.5">70</text>
<text x="384.00" y="525.10" text-anchor="end" font-size="11.5">80</text>
<text x="393.80" y="699.60" text-anchor="middle" font-size="11.5">0</text>
<text x="450.70" y="699.60" text-anchor="middle" font-size="11.5">5</text>
<text x="507.60" y="699.60" text-anchor="middle" font-size="11.5">10</text>
<text x="564.50" y="699.60" text-anchor="middle" font-size="11.5">15</text>
<text x="621.40" y="699.60" text-anchor="middle" font-size="11.5">20</text>
<text x="678.30" y="699.60" text-anchor="middle" font-size="11.5">25</text>
<path d="M393.80,682.30H397.50M393.80,662.22H397.50M393.80,642.15H397.50M393.80,622.08H397.50M393.80,602.00H397.50M393.80,581.92H397.50M393.80,561.85H397.50M393.80,541.78H397.50M393.80,521.70H397.50M393.80,682.30V679.00M450.70,682.30V679.00M507.60,682.30V679.00M564.50,682.30V679.00M621.40,682.30V679.00M678.30,682.30V679.00" stroke="#000" stroke-width="0.9" fill="none"/>
<rect x="393.80" y="521.70" width="284.50" height="160.60" fill="none" stroke="#000" stroke-width="2.6" stroke-linejoin="round"/>
<line x1="459.90" y1="529.90" x2="479.50" y2="529.90" stroke="#4472C4" stroke-width="2"/>
<line x1="551.60" y1="529.90" x2="571.00" y2="529.90" stroke="#ED7D31" stroke-width="2"/>
<text x="481.60" y="534.00" font-size="11.5">Actual value</text>
<text x="573.00" y="534.00" font-size="11.8">AdaBoost Predict</text>
<text x="504.90" y="719.00" font-size="13.6">Data number</text>
<text transform="translate(362.90,602.00) rotate(-90)" text-anchor="middle" font-size="13.3">Value</text>
<text x="-0.3" y="227.00" font-size="16.2">(a) KNN algorithm</text>
<text x="-0.3" y="480.90" font-size="16.2">(b) SVR algorithm</text>
<text x="-0.3" y="744.40" font-size="16.2">(c) AdaBoost algorithm</text>
</svg>
</body></html>
